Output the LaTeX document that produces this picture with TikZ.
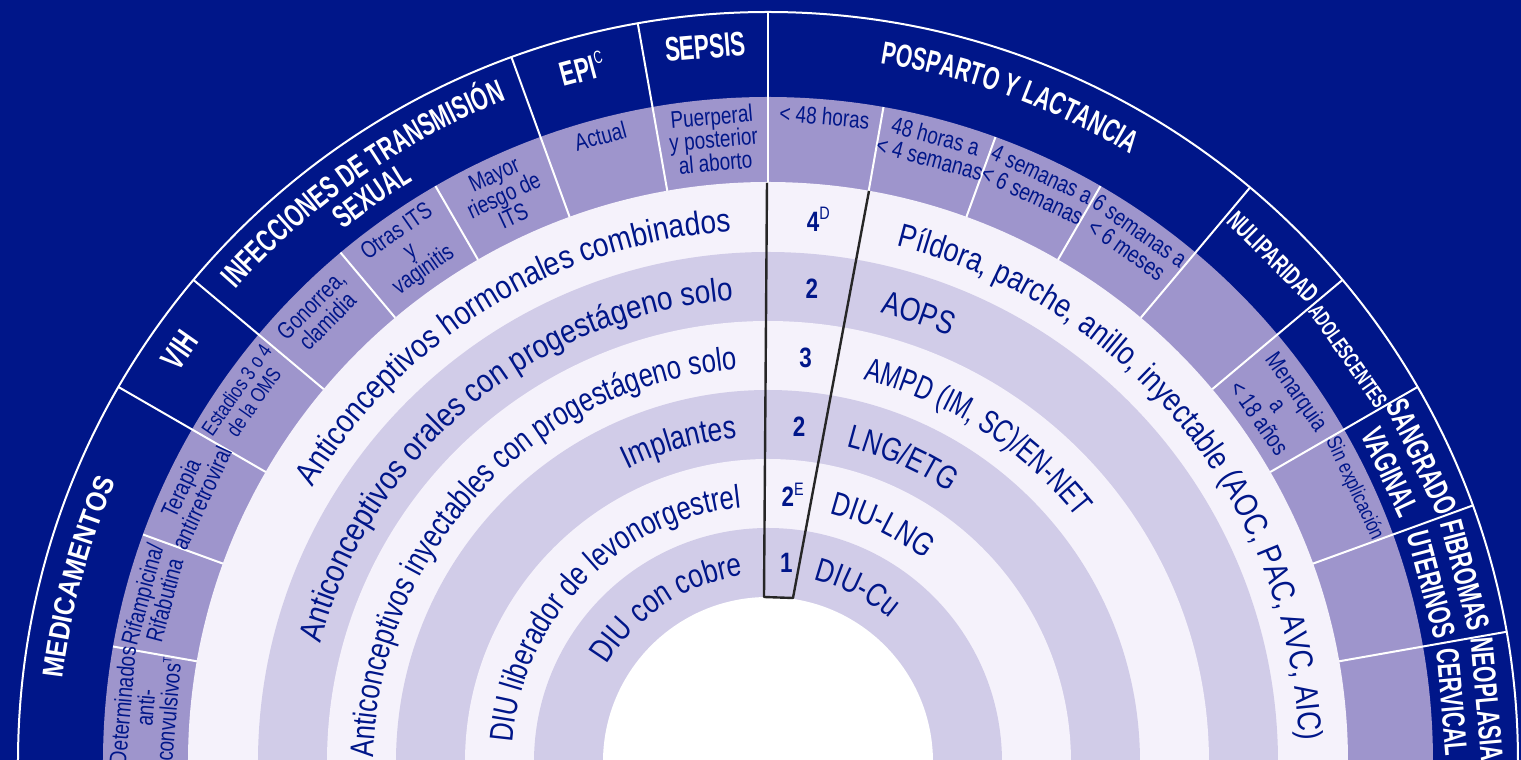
\documentclass[tikz,border=0pt]{standalone}
\usepackage{fontspec}
\setmainfont{Liberation Sans}
\newfontfamily\ringAfamily[FakeStretch=0.85]{Liberation Sans}
\newfontfamily\ringBfamily[FakeStretch=0.82]{Liberation Sans}
\newfontfamily\ringfamily[FakeStretch=0.8]{Liberation Sans}
\newfontfamily\ringCfamily[FakeStretch=0.78]{Liberation Sans}
\newfontfamily\ringDfamily[FakeStretch=0.72]{Liberation Sans}
\newfontfamily\subcatfamily[FakeStretch=0.79]{Liberation Sans}
\newfontfamily\hdrfamily[FakeStretch=0.66]{Liberation Sans}
\newfontfamily\medfamily[FakeStretch=0.86]{Liberation Sans}
\usetikzlibrary{decorations.text}
\definecolor{navy}{RGB}{0,22,137}
\definecolor{subpurple}{RGB}{158,149,204}
\definecolor{ringmid}{RGB}{209,204,232}
\definecolor{ringlight}{RGB}{245,242,251}
\newcommand\ringAfont{\ringAfamily\fontsize{33}{33}\selectfont}
\newcommand\ringBfont{\ringBfamily\fontsize{33}{33}\selectfont}
\newcommand\ringtxtfont{\ringfamily\fontsize{33}{33}\selectfont}
\newcommand\ringCfont{\ringCfamily\fontsize{33}{33}\selectfont}
\newcommand\ringDfont{\ringDfamily\fontsize{33}{33}\selectfont}
\newcommand\subcatfont{\subcatfamily\fontsize{24}{23}\selectfont}
\newcommand\smallsubfont{\subcatfamily\fontsize{21}{21}\selectfont}
\newcommand\hdrfont{\hdrfamily\bfseries\fontsize{32}{35}\selectfont}
\newcommand\bighdrfont{\hdrfamily\bfseries\fontsize{34}{35}\selectfont}
\newcommand\medfont{\medfamily\bfseries\fontsize{29}{29}\selectfont}
\newcommand\numfont{\ringfamily\bfseries\fontsize{28}{28}\selectfont}
\newcommand\supmark[2][18]{\raisebox{0.4em}{\fontsize{#1}{#1}\selectfont\mdseries #2}}
\tikzstyle{seprule} = [white, line width=2pt]
\tikzstyle{wedge} = [black!85, line width=2.4pt, line join=round]
\tikzstyle{hdr} = [text=white, font=\hdrfont, inner sep=0pt, align=center]
\tikzstyle{subcat} = [text=navy, font=\subcatfont, inner sep=0pt, align=center, anchor=north]
\tikzstyle{num} = [text=navy, font=\numfont, inner sep=0pt]
\tikzset{
  lefttext/.style={decorate, decoration={text along path, text align=right, text color=navy, text={#1}}},
  righttext/.style={decorate, decoration={text along path, text align=left, text color=navy, text={#1}}},
  hdrarc/.style={decorate, decoration={text along path, text align=center, text color=white, text={|\hdrfont|#1}}},
  medarc/.style={decorate, decoration={text along path, text align=center, text color=white, text={|\medfont|#1}}}
}

\begin{document}
\begin{tikzpicture}[x=1pt, y=1pt]
	\useasboundingbox (-768,2) rectangle (753,762);
	\clip (-768,2) rectangle (753,762);
	\fill[navy] (-768,2) rectangle (753,762);
	\fill[subpurple] (0,0) circle[radius=665];
	\fill[ringlight] (0,0) circle[radius=580];
	\fill[ringmid] (0,0) circle[radius=510];
	\fill[ringlight] (0,0) circle[radius=441];
	\fill[ringmid] (0,0) circle[radius=372];
	\fill[ringlight] (0,0) circle[radius=303];
	\fill[ringmid] (0,0) circle[radius=234];
	\fill[white] (0,0) circle[radius=165];
	
	\draw[seprule] (0:750) arc[start angle=0, end angle=180, radius=750];
	\foreach \a in {10,20,30,40,50,90,100,110,140,150}
		\draw[seprule] (\a:580) -- (\a:750);
	\foreach \a in {60,70,80,120,130,160,170}
		\draw[seprule] (\a:580) -- (\a:665);
	\draw[wedge] (-1,579) -- (-4,165) -- (25,164) -- (101,571);
	
	\path[medarc={MEDICAMENTOS}] (180:710) arc[start angle=180, end angle=150, radius=710];
	\node(hdrvih) [hdr, rotate=55, font=\bighdrfont] at (145:718) {VIH};
	\path[hdrarc={INFECCIONES DE TRANSMISIÓN}] (142:712) arc[start angle=142, end angle=108, radius=712];
	\path[hdrarc={SEXUAL}] (142:681) arc[start angle=142, end angle=108, radius=681];
	\node(hdrepi) [hdr, rotate=15, font=\bighdrfont] at (105:718) {EPI\supmark{C}};
	\node(hdrsepsis) [hdr, rotate=5, font=\bighdrfont] at (95:718) {SEPSIS};
	\path[hdrarc={POSPARTO Y LACTANCIA}] (90:708) arc[start angle=90, end angle=50, radius=708];
	\node(hdrnulip) [hdr, rotate=-45, font=\hdrfamily\bfseries\fontsize{26}{26}\selectfont] at (45:714) {NULIPARIDAD};
	\node(hdradol) [hdr, rotate=-55, font=\hdrfamily\bfseries\fontsize{22}{22}\selectfont] at (35:708) {ADOLESCENTES};
	\node(hdrsangrado) [hdr, rotate=-65] at (25:704) {SANGRADO\\VAGINAL};
	\node(hdrfibromas) [hdr, rotate=-75] at (15:704) {FIBROMAS\\UTERINOS};
	\node(hdrneoplasia) [hdr, rotate=-85] at (5:704) {NEOPLASIA\\CERVICAL};
	
	\node(subanticonv) [subcat, rotate=85] at (175:657) {Determinados\\anti-\\convulsivos\supmark[12]{T}};
	\node(subrifamp) [subcat, rotate=75] at (165:657) {Rifampicina/\\Rifabutina};
	\node(subtarv) [subcat, rotate=65] at (155:657) {Terapia\\antirretroviral};
	\node(subestadios) [subcat, rotate=55, font=\smallsubfont] at (145:657) {Estadios 3 o 4\\de la OMS};
	\node(subgonorrea) [subcat, rotate=45] at (135:655) {Gonorrea,\\clamidia};
	\node(subotras) [subcat, rotate=35] at (125:657) {Otras ITS\\y\\vaginitis};
	\node(submayor) [subcat, rotate=25] at (115:657) {Mayor\\riesgo de\\ITS};
	\node(subactual) [subcat, rotate=15] at (105:657) {Actual};
	\node(subpuerperal) [subcat, rotate=5] at (95:657) {Puerperal\\y posterior\\al aborto};
	\node(sub48h) [subcat, rotate=-5] at (85:657) {< 48 horas};
	\node(sub4sem) [subcat, rotate=-15] at (75:657) {48 horas a\\< 4 semanas};
	\node(sub6sem) [subcat, rotate=-25] at (65:657) {4 semanas a\\< 6 semanas};
	\node(sub6mes) [subcat, rotate=-35] at (55:657) {6 semanas a\\< 6 meses};
	\node(submenarquia) [subcat, rotate=-55] at (35:655) {Menarquia\\a\\< 18 años};
	\node(subsinexpl) [subcat, rotate=-65, font=\smallsubfont] at (25:657) {Sin explicación};
	
	\path[lefttext={|\ringAfont|Anticonceptivos hormonales combinados}] (200:532) arc[start angle=200, end angle=94, radius=532];
	\path[lefttext={|\ringAfont|Anticonceptivos orales con progestágeno solo}] (200:463) arc[start angle=200, end angle=94.3, radius=463];
	\path[lefttext={|\ringCfont|Anticonceptivos inyectables con progestágeno solo}] (200:394) arc[start angle=200, end angle=94.5, radius=394];
	\path[lefttext={|\ringtxtfont|Implantes}] (200:325) arc[start angle=200, end angle=95.5, radius=325];
	\path[lefttext={|\ringCfont|DIU liberador de levonorgestrel}] (200:256) arc[start angle=200, end angle=96, radius=256];
	\path[lefttext={|\ringtxtfont|DIU con cobre}] (200:188) arc[start angle=200, end angle=97.5, radius=188];
	
	\node(numcomb) [num] at (84.7:545) {4\supmark{D}};
	\node(numaops) [num] at (84.7:475) {2};
	\node(numampd) [num] at (84.7:406) {3};
	\node(numimpl) [num] at (84.7:337) {2};
	\node(numdiulng) [num] at (84.7:268) {2\supmark{E}};
	\node(numdiucu) [num] at (84.7:200) {1};
	
	\path[righttext={|\ringBfont|Píldora, parche, anillo, inyectable (AOC, PAC, AVC, AIC)}] (76:532) arc[start angle=76, end angle=-20, radius=532];
	\path[righttext={|\ringtxtfont|AOPS}] (76:463) arc[start angle=76, end angle=-20, radius=463];
	\path[righttext={|\ringDfont|AMPD (IM, SC)/EN-NET}] (76:394) arc[start angle=76, end angle=-20, radius=394];
	\path[righttext={|\ringCfont|LNG/ETG}] (76:325) arc[start angle=76, end angle=-20, radius=325];
	\path[righttext={|\ringCfont|DIU-LNG}] (76:256) arc[start angle=76, end angle=-20, radius=256];
	\path[righttext={|\ringCfont|DIU-Cu}] (76:188) arc[start angle=76, end angle=-20, radius=188];
\end{tikzpicture}
\end{document}
